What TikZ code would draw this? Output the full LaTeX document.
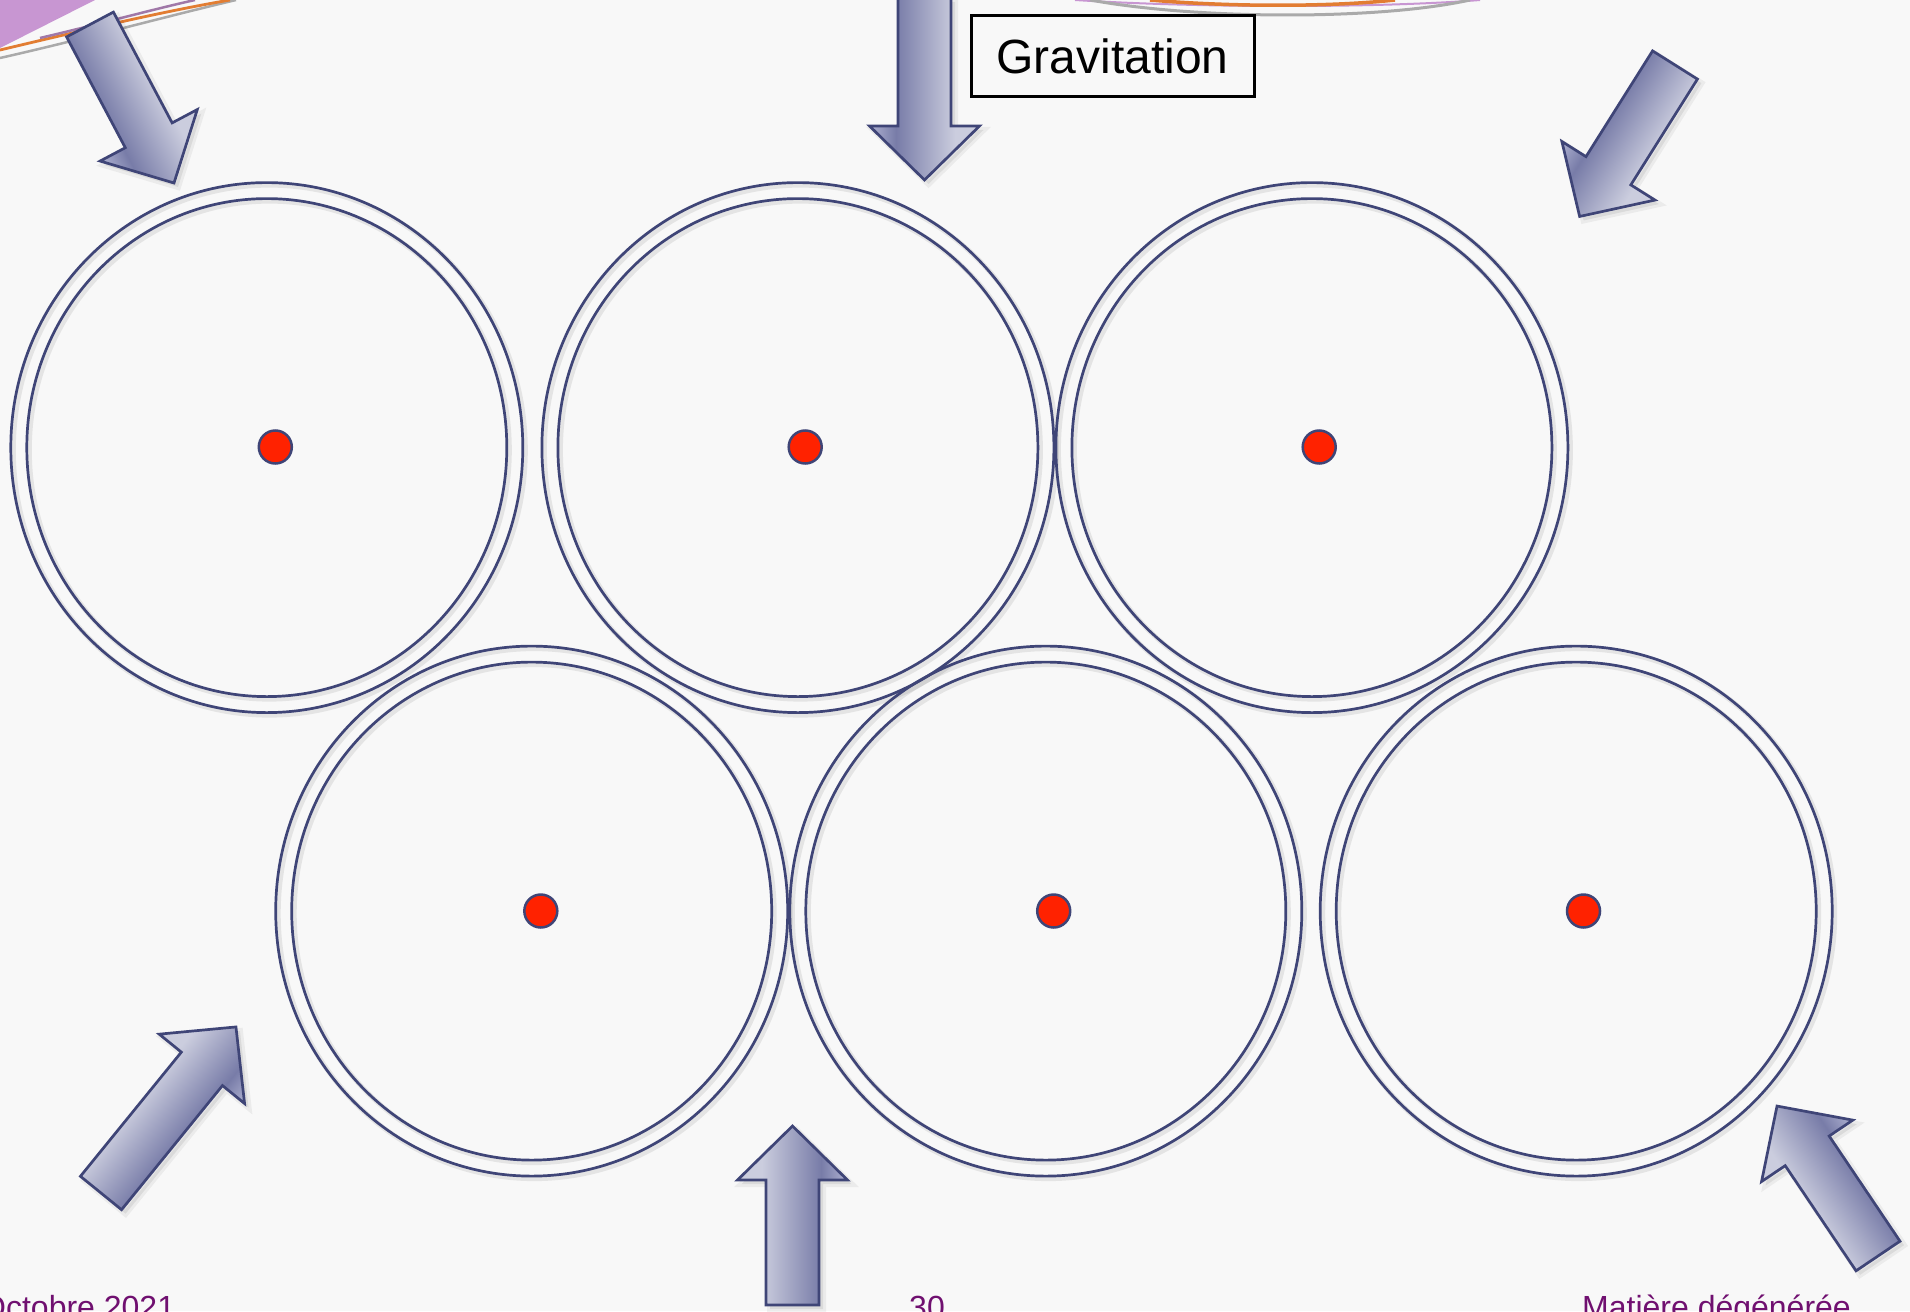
\documentclass[tikz,border=0pt]{standalone}
\usepackage{fontspec}
\setmainfont{Liberation Sans}

\definecolor{bgpaper}{RGB}{248,248,248}
\definecolor{ringline}{RGB}{63,69,119}
\definecolor{arrlight}{RGB}{203,205,222}
\definecolor{arrmid}{RGB}{170,173,205}
\definecolor{arrdark}{RGB}{120,124,168}
\definecolor{dotred}{RGB}{255,34,0}
\definecolor{footpurple}{RGB}{112,16,112}
\definecolor{themepurple}{RGB}{200,150,210}
\definecolor{themeorange}{RGB}{226,125,50}
\definecolor{themegray}{RGB}{170,170,170}

% gradient across the width of a block arrow (bottom = right-hand side)
\pgfdeclareverticalshading{arrowbody}{100bp}{%
  color(0bp)=(arrmid); color(26bp)=(arrmid); color(37bp)=(arrdark);
  color(64bp)=(arrlight); color(100bp)=(arrlight)}

\tikzset{
  ringstyle/.style={draw=ringline, line width=2.7},
  ringshade/.style={draw=black, opacity=0.08, line width=5},
  reddot/.style={circle, fill=dotred, draw=ringline, line width=2.5,
                 minimum size=33, inner sep=0pt},
  arrowstyle/.style={shading=arrowbody, draw=ringline, line width=2.7,
                     line join=miter},
  arrowshadow/.style={fill=black, opacity=0.07},
  foot/.style={font=\fontsize{32}{38}\selectfont, text=footpurple, inner sep=0pt},
  gravbox/.style={draw=black, line width=3, minimum width=283, minimum height=81,
                  inner sep=0pt, font=\fontsize{48}{58}\selectfont},
}

% outline of a block arrow along the local x axis, length #1
\newcommand{\arrowoutline}[1]{(0,-26.5) -- ({#1-54},-26.5) -- ({#1-54},-55)
      -- (#1,0) -- ({#1-54},55) -- ({#1-54},26.5) -- (0,26.5) -- cycle}

% block arrow: tail centre (#1,#2), direction angle #3, total length #4
\newcommand{\blockarrow}[4]{%
  \begin{scope}[transform canvas={shift={({#1+4},{#2+4})},rotate=#3}]
    \fill[arrowshadow, line width=6, draw=black, draw opacity=0.05] \arrowoutline{#4};
  \end{scope}
  \begin{scope}[transform canvas={shift={(#1,#2)},rotate=#3}]
    \shadedraw[arrowstyle] \arrowoutline{#4};
  \end{scope}}

% double ring with a faint shadow
\newcommand{\ringpair}[2]{%
  \draw[ringshade] ({#1+2.5},{#2+2.5}) ellipse [x radius=256, y radius=265];
  \draw[ringshade] ({#1+2.5},{#2+2.5}) ellipse [x radius=240, y radius=249];
  \draw[ringstyle] (#1,#2) ellipse [x radius=256, y radius=265];
  \draw[ringstyle] (#1,#2) ellipse [x radius=240, y radius=249];}

\begin{document}
\begin{tikzpicture}[x=1pt, y=-1pt]
  \useasboundingbox (0,0) rectangle (1910,1311);
  \clip (0,0) rectangle (1910,1311);
  \fill[bgpaper] (0,0) rectangle (1910,1311);

  % theme ornaments along the top edge
  \fill[themepurple] (0,0) -- (95,0) -- (0,48) -- cycle;
  \draw[themegray, line width=2.5] (0,58) .. controls (80,40) and (160,18) .. (236,0);
  \draw[themeorange, line width=2.8] (0,50) .. controls (80,31) and (160,12) .. (230,0);
  \draw[themepurple!80!black, line width=2.5] (40,38) .. controls (100,24) and (150,10) .. (195,0);
  \draw[themepurple, line width=2] (1075,0) .. controls (1200,8) and (1380,8) .. (1480,0);
  \draw[themegray, line width=3] (1090,0) .. controls (1200,20) and (1380,20) .. (1470,0);
  \draw[themeorange, line width=3.5] (1150,0) .. controls (1230,7) and (1330,7) .. (1395,0);

  % particles: rings and nuclei
  \ringpair{266.8}{447.6}
  \ringpair{797.9}{447.6}
  \ringpair{1311.9}{447.6}
  \ringpair{531.7}{911.1}
  \ringpair{1045.8}{911.1}
  \ringpair{1576.2}{911.1}

  \node[reddot] (n1) at (275.3,447) {};
  \node[reddot] (n2) at (805.2,447) {};
  \node[reddot] (n3) at (1319.2,447) {};
  \node[reddot] (n4) at (540.8,911) {};
  \node[reddot] (n5) at (1053.7,911) {};
  \node[reddot] (n6) at (1583.5,911) {};

  % compressing arrows
  \blockarrow{90}{24.5}{-62.08}{179.4}
  \blockarrow{924.5}{-2}{-90}{182}
  \blockarrow{1675}{65}{-122.2}{179}
  \blockarrow{101}{1193}{50.9}{214}
  \blockarrow{792.5}{1305}{90}{179}
  \blockarrow{1878}{1256}{123.96}{180.8}

  \node[gravbox] (grav) at (1112.5,56.5) {Gravitation};

  % footer
  \node[foot, anchor=base west] (date) at (-19,1318) {Octobre 2021};
  \node[foot, anchor=base west] (page) at (909,1318) {30};
  \node[foot, anchor=base west] (title) at (1582,1318) {Matière dégénérée};
\end{tikzpicture}
\end{document}
